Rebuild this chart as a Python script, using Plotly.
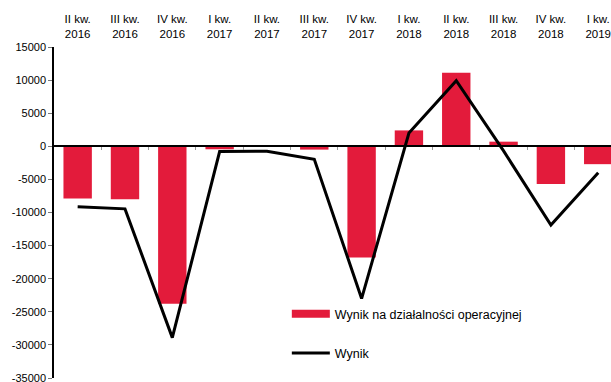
import plotly.graph_objects as go

categories = ["II kw.<br>2016", "III kw.<br>2016", "IV kw.<br>2016", "I kw.<br>2017",
              "II kw.<br>2017", "III kw.<br>2017", "IV kw.<br>2017", "I kw.<br>2018",
              "II kw.<br>2018", "III kw.<br>2018", "IV kw.<br>2018", "I kw.<br>2019"]
operacyjny = [-7900, -8000, -23800, -450, 150, -500, -16800, 2400, 11100, 700, -5700, -2700]
wynik = [-9150, -9450, -28900, -800, -750, -1950, -23000, 2000, 9900, -700, -11900, -4000]
y_ticks = [15000, 10000, 5000, 0, -5000, -10000, -15000, -20000, -25000, -30000, -35000]
y_ticktext = [str(v) for v in y_ticks]

RED = "#E31B3B"
FONT = "Liberation Sans, Arial, sans-serif"
xi = list(range(len(categories)))

fig = go.Figure()
fig.add_trace(go.Bar(x=xi, y=operacyjny, marker=dict(color=RED, line=dict(width=0)),
                     width=0.6, showlegend=False, xaxis="x", yaxis="y"))
fig.add_trace(go.Scatter(x=xi, y=wynik, mode="lines", line=dict(color="black", width=3),
                         showlegend=False, xaxis="x", yaxis="y"))
# legend proxies
fig.add_trace(go.Scatter(x=[None], y=[None], mode="lines", line=dict(color=RED, width=8),
                         name="Wynik na działalności operacyjnej", legendgroup="a"))
fig.add_trace(go.Scatter(x=[None], y=[None], mode="lines", line=dict(color="black", width=3),
                         name="Wynik", legendgroup="b"))

ymin, ymax = -35000, 15000
zero_pos = (0 - ymin) / (ymax - ymin)
xrange = [-0.5, 11.27]

fig.update_layout(
    width=611, height=382,
    margin=dict(l=54, r=0, t=47, b=4, autoexpand=False),
    plot_bgcolor="white", paper_bgcolor="white",
    font=dict(family=FONT, color="black", size=12),
    xaxis=dict(range=xrange, side="top", tickvals=xi, ticktext=categories,
               showline=False, ticks="", showgrid=False, zeroline=False,
               tickfont=dict(size=11.5), automargin=False, ticklabeloverflow="allow",
               ticklabelstandoff=6),
    xaxis2=dict(range=xrange, overlaying="x", anchor="free", position=zero_pos,
                showline=True, linecolor="black", linewidth=1.5,
                tickvals=[i + 0.5 for i in xi], ticks="outside", ticklen=3,
                tickcolor="#999999", showticklabels=False, showgrid=False, zeroline=False,
                automargin=False),
    yaxis=dict(range=[ymin, ymax], tickvals=y_ticks, ticktext=y_ticktext,
               showline=True, linecolor="black", linewidth=1.5, ticks="outside",
               ticklen=4, tickcolor="#777777", showgrid=False, zeroline=False,
               tickfont=dict(size=11), automargin=False, ticklabeloverflow="allow"),
    legend=dict(x=0.418, y=0.238, xanchor="left", yanchor="top",
                font=dict(size=12.5), bgcolor="rgba(0,0,0,0)",
                traceorder="grouped", tracegroupgap=20, itemwidth=38),
)
# invisible trace to activate xaxis2
fig.add_trace(go.Scatter(x=[0], y=[0], xaxis="x2", yaxis="y", mode="markers",
                         marker=dict(opacity=0), showlegend=False, hoverinfo="skip"))
fig.write_html("out.html", config={"displayModeBar": False},
               post_script="document.body.style.margin='0';document.body.style.overflow='hidden';")
